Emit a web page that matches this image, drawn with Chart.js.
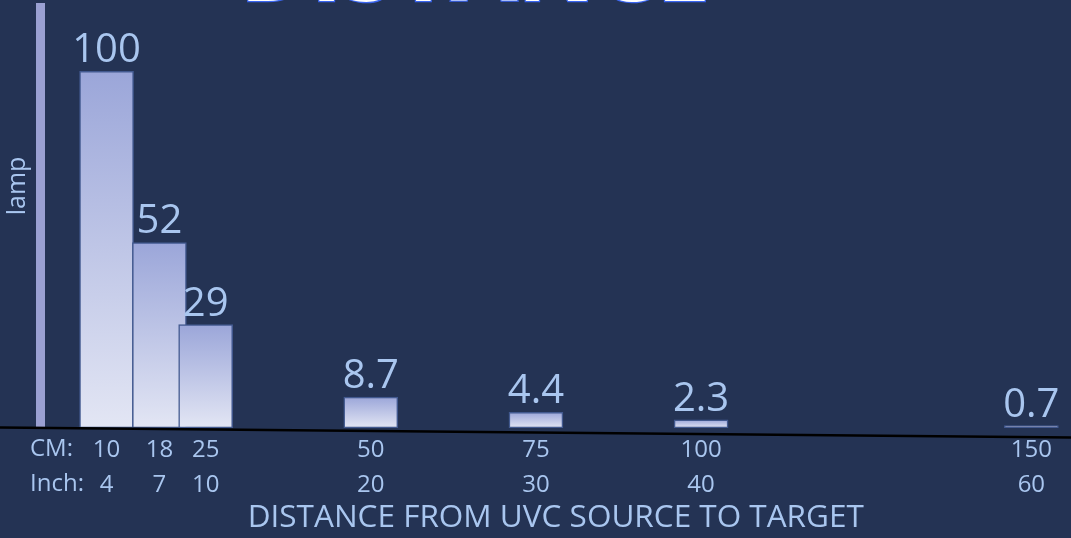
<!DOCTYPE html>
<html>
<head>
<meta charset="utf-8">
<script src="https://cdn.jsdelivr.net/npm/chart.js@4.4.0/dist/chart.umd.min.js"></script>
<style>
html,body{margin:0;padding:0;background:#243354;}
#wrap{width:1071px;height:538px;position:relative;}
</style>
</head>
<body>
<div id="wrap"><canvas id="barChart"></canvas></div>
<script>
// distance from source, cm and inch
const cmVals=[10,18,25,50,75,100,150];
const inchVals=[4,7,10,20,30,40,60];
// relative intensity (%)
const percentVals=[100,52,29,8.7,4.4,2.3,0.7];
const axisTitle='DISTANCE FROM UVC SOURCE TO TARGET';
const topTitle='DISTANCE';
const sideTitle='lamp';

const labelBlue='#a9c6ef';

function barFill(c){
    const chart=c.chart;
    if(!chart.chartArea || !c.raw) return '#b8c0e4';
    const y=chart.scales.y;
    const top=y.getPixelForValue(c.raw.y);
    const bottom=y.getPixelForValue(0);
    const g=chart.ctx.createLinearGradient(0,top,0,bottom);
    g.addColorStop(0,'#9ba6d9');
    g.addColorStop(1,'#e3e6f4');
    return g;
}

const decor={
    id:'decor',
    afterDatasetsDraw(chart){
        const ctx=chart.ctx;
        const meta=chart.getDatasetMeta(0);
        const base=chart.chartArea.bottom;
        ctx.save();
        // slanted base line
        ctx.strokeStyle='#000';
        ctx.lineWidth=2.5;
        ctx.beginPath();
        ctx.moveTo(0,base-0.5);
        ctx.lineTo(chart.width,base+9.5);
        ctx.stroke();

        // value labels
        ctx.font='40px "Open Sans"';
        ctx.fillStyle=labelBlue;
        ctx.textAlign='center';
        ctx.textBaseline='alphabetic';
        meta.data.forEach((el,i)=>{
            ctx.fillText(String(percentVals[i]),el.x,el.y-9);
        });

        // row prefixes
        ctx.font='24px "Open Sans"';
        ctx.textAlign='left';
        ctx.textBaseline='middle';
        ctx.fillText('CM:',30,base+21);
        ctx.fillText('Inch:',30,base+56);

        // side label
        ctx.save();
        ctx.translate(18,186);
        ctx.rotate(-Math.PI/2);
        ctx.font='25px "Open Sans"';
        ctx.textAlign='center';
        ctx.fillText(sideTitle,0,0);
        ctx.restore();

        // cut off heading at the very top
        ctx.font='bold 96px "Open Sans"';
        ctx.textAlign='center';
        ctx.textBaseline='alphabetic';
        ctx.lineWidth=2.5;
        ctx.strokeStyle='#3b66f0';
        ctx.fillStyle='#ffffff';
        ctx.strokeText(topTitle,475,0.5);
        ctx.fillText(topTitle,475,0.5);
        ctx.restore();
    }
};

const ctx=document.getElementById('barChart').getContext('2d');
const barchart=new Chart(ctx,{
    type:'bar',
    data:{
        datasets:[{
            data:percentVals.map((v,i)=>({x:cmVals[i],y:v})),
            backgroundColor:barFill,
            borderColor:'#42598f',
            borderWidth:1.5,
            borderSkipped:false,
            barThickness:54
        }]
    },
    options:{
        responsive:true,
        maintainAspectRatio:false,
        animation:false,
        layout:{padding:{top:7,left:0,right:0,bottom:0}},
        plugins:{
            legend:{display:false},
            tooltip:{enabled:false}
        },
        scales:{
            x:{
                type:'linear',
                min:0,
                max:156,
                offset:false,
                grid:{display:false,drawTicks:false},
                border:{display:false},
                afterBuildTicks:s=>{s.ticks=cmVals.map(v=>({value:v}));},
                afterFit:s=>{s.height=110;},
                ticks:{
                    autoSkip:false,
                    maxRotation:0,
                    padding:5,
                    color:labelBlue,
                    font:{family:'"Open Sans"',size:24,lineHeight:1.45},
                    callback:(v,i)=>[String(cmVals[i]),String(inchVals[i])]
                },
                title:{
                    display:true,
                    text:axisTitle,
                    color:labelBlue,
                    font:{family:'"Open Sans"',size:31.5},
                    padding:{top:0,bottom:1}
                }
            },
            y:{
                min:0,
                max:118,
                grid:{display:false},
                ticks:{display:false},
                border:{display:true,width:9,color:'#9aa0d2'},
                afterFit:s=>{s.width=40.5;}
            }
        }
    },
    plugins:[decor]
});
</script>
</body>
</html>
